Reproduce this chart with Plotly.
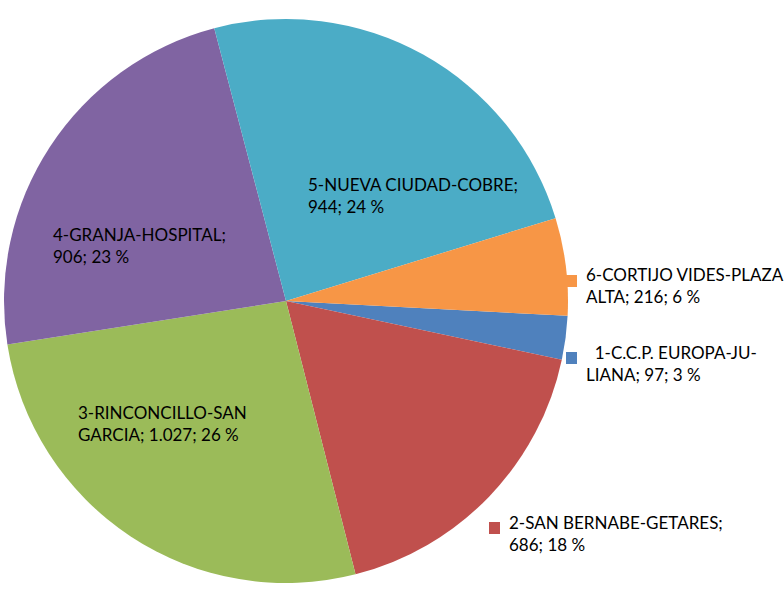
import plotly.graph_objects as go

# ---- data ----
labels = ["1-C.C.P. EUROPA-JULIANA", "2-SAN BERNABE-GETARES", "3-RINCONCILLO-SAN GARCIA",
          "4-GRANJA-HOSPITAL", "5-NUEVA CIUDAD-COBRE", "6-CORTIJO VIDES-PLAZA ALTA"]
values = [97, 686, 1027, 906, 944, 216]
colors = ["#4F81BD", "#C0504D", "#9BBB59", "#8064A2", "#4BACC6", "#F79646"]
# label text as wrapped in the picture: (first line, rest before value)
wrap_first = ["\u00a0\u00a01-C.C.P. EUROPA-JU-", "2-SAN BERNABE-GETARES;", "3-RINCONCILLO-SAN",
              "4-GRANJA-HOSPITAL;", "5-NUEVA CIUDAD-COBRE;", "6-CORTIJO VIDES-PLAZA"]
wrap_rest = ["LIANA; ", "", "GARCIA; ", "", "", "ALTA; "]

W, H = 784, 589
total = sum(values)

def fmt(v):
    return f"{v:,}".replace(",", ".")

texts = [f"{a}<br>{b}{fmt(v)}; {round(v / total * 100)} %"
         for a, b, v in zip(wrap_first, wrap_rest, values)]

cx, cy, r = 286, 301, 282
fig = go.Figure(go.Pie(
    labels=labels, values=values, sort=False, direction="clockwise", rotation=93,
    marker=dict(colors=colors, line=dict(width=0)),
    textinfo="none", hoverinfo="label+value+percent", showlegend=False,
    domain=dict(x=[(cx - r) / W, (cx + r) / W], y=[(H - cy - r) / H, (H - cy + r) / H]),
))

# label positions (pixels, left x / middle y of the text block)
label_pos = [(584, 363), (507, 533), (76, 423), (51, 246), (306, 195), (584, 286)]
# legend-key squares for outside labels
key_pos = {0: (566, 352), 1: (489, 522), 5: (566, 275)}

annotations = []
for i, (x, y) in enumerate(label_pos):
    annotations.append(dict(
        x=x / W, y=1 - y / H, xref="paper", yref="paper", xanchor="left", yanchor="middle",
        align="left", showarrow=False, text=texts[i],
        font=dict(family="Lato, Carlito, Calibri, sans-serif", size=17, color="#000000"),
    ))
shapes = []
for i, (x, y) in key_pos.items():
    shapes.append(dict(type="rect", xref="paper", yref="paper",
                       x0=x / W, x1=(x + 11) / W, y0=1 - (y + 12) / H, y1=1 - y / H,
                       fillcolor=colors[i], line=dict(width=0)))

fig.update_layout(
    width=W, height=H, margin=dict(l=0, r=0, t=0, b=0),
    paper_bgcolor="white", plot_bgcolor="white",
    annotations=annotations, shapes=shapes,
)
fig.write_html("out.html", config={"displayModeBar": False},
               post_script="document.body.style.margin='0';")
